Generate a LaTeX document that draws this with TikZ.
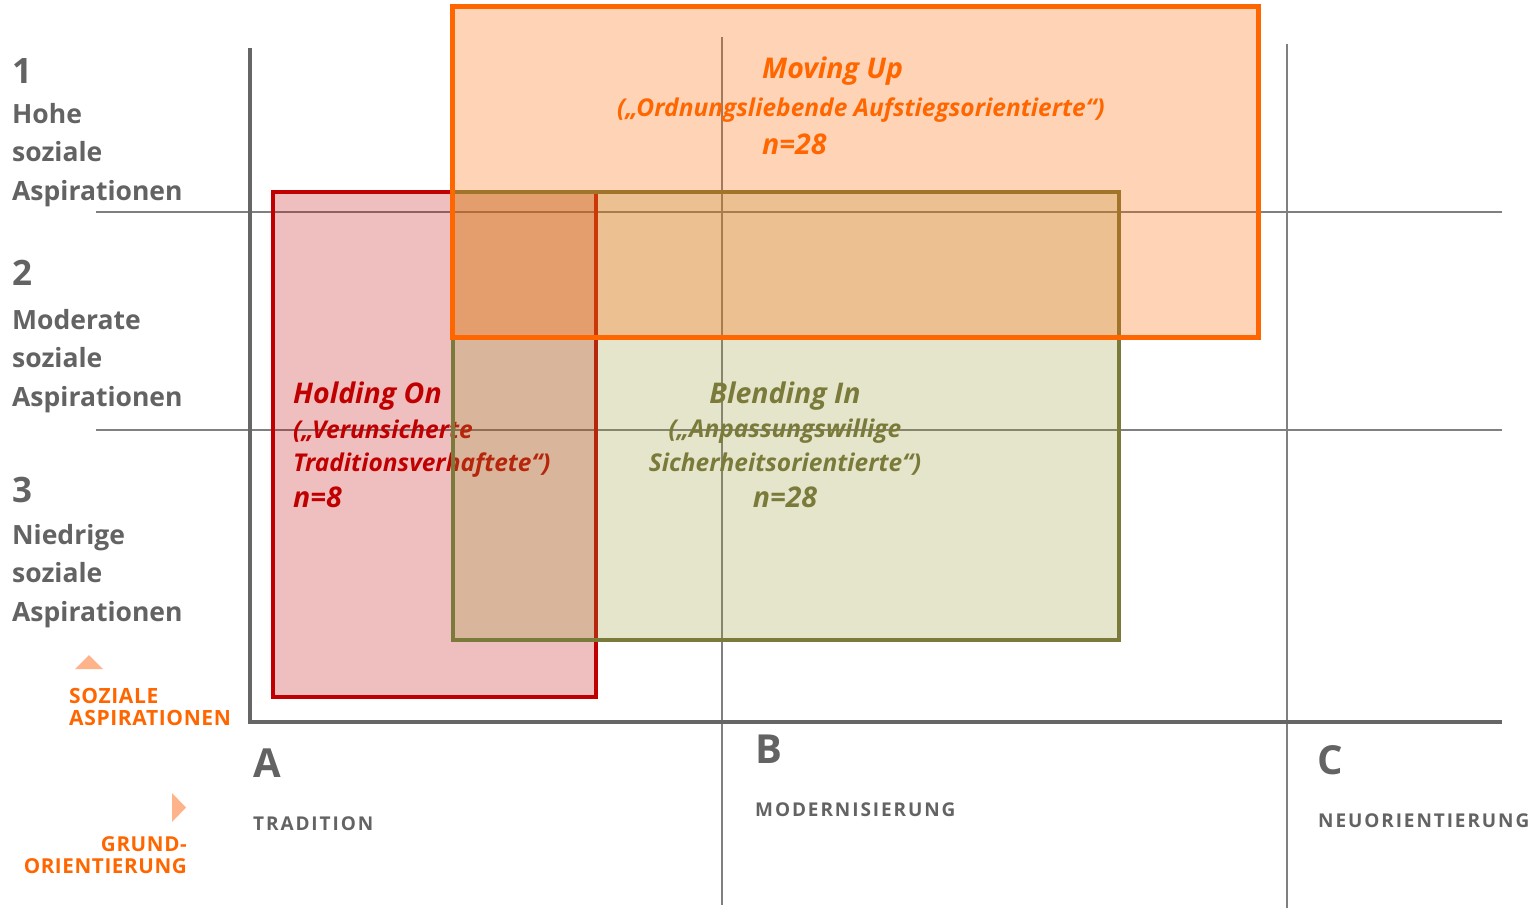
\documentclass[tikz,border=0pt]{standalone}
\usepackage{fontspec}
\setmainfont{Open Sans}
\newfontfamily\spacedA[LetterSpace=10]{Open Sans}
\newfontfamily\spacedB[LetterSpace=3]{Open Sans}
\definecolor{axisgray}{HTML}{666666}
\definecolor{gridgray}{HTML}{808080}
\definecolor{txtgray}{HTML}{636363}
\definecolor{redc}{HTML}{C00000}
\definecolor{olivec}{HTML}{7A7A3A}
\definecolor{olivefill}{HTML}{999933}
\definecolor{orangec}{HTML}{FF6600}
\definecolor{trifill}{HTML}{FFB38A}
\tikzset{
  axisline/.style={draw=axisgray, line width=4pt},
  gridline/.style={draw=gridgray, line width=1.5pt},
  redbox/.style={draw=redc, line width=4pt, fill=redc, fill opacity=0.25},
  greenbox/.style={draw=olivec, line width=4pt, fill=olivefill, fill opacity=0.25},
  orangebox/.style={draw=orangec, line width=5pt, fill=orangec, fill opacity=0.29},
  lvl/.style={inner sep=0pt, anchor=base west, text=txtgray, font=\bfseries\fontsize{35}{35}\selectfont},
  lvltext/.style={inner sep=0pt, anchor=base west, text=txtgray, align=left, font=\bfseries\fontsize{26.5}{38.5}\selectfont},
  col/.style={inner sep=0pt, anchor=base west, text=txtgray, font=\bfseries\fontsize{40}{40}\selectfont},
  coltext/.style={inner sep=0pt, anchor=base west, text=txtgray, font=\spacedA\bfseries\fontsize{19}{19}\selectfont},
  axlabel/.style={inner sep=0pt, text=orangec, font=\spacedB\bfseries\fontsize{21}{22}\selectfont},
  grptitle/.style={inner sep=0pt, font=\bfseries\itshape\fontsize{28.5}{28.5}\selectfont},
  grpsub/.style={inner sep=0pt, font=\bfseries\itshape\fontsize{24.5}{24.5}\selectfont},
}
\begin{document}
\begin{tikzpicture}[x=1pt,y=-1pt]
\useasboundingbox (0,0) rectangle (1537,908);
% grid
\draw[gridline] (96,212) -- (1502,212);
\draw[gridline] (96,430) -- (1502,430);
\draw[gridline] (722,37) -- (722,905);
\draw[gridline] (1287,44) -- (1287,908);
\draw[axisline] (250,48) -- (250,722) -- (1502,722);
% left labels
\node[lvl] (n1) at (12,83) {1};
\node[lvltext] (t1) at (12,200) {Hohe\\soziale\\Aspirationen};
\node[lvl] (n2) at (12,285) {2};
\node[lvltext] (t2) at (12,406) {Moderate\\soziale\\Aspirationen};
\node[lvl] (n3) at (12,502) {3};
\node[lvltext] (t3) at (12,621) {Niedrige\\soziale\\Aspirationen};
% axis labels
\fill[trifill] (75,669) -- (89,655) -- (103,669) -- cycle;
\node[axlabel, anchor=base west, align=left] (soz) at (69,725) {SOZIALE\\ASPIRATIONEN};
\fill[trifill] (172,793) -- (186,807.5) -- (172,822) -- cycle;
\node[axlabel, anchor=base east, align=right, font=\spacedB\bfseries\fontsize{20.6}{22}\selectfont] (grund) at (187,873) {GRUND-\\ORIENTIERUNG};
% columns
\node[col] (ca) at (253,777) {A};
\node[coltext] (cta) at (253,830) {TRADITION};
\node[col] (cb) at (755,763) {B};
\node[coltext] (ctb) at (755,816) {MODERNISIERUNG};
\node[col] (cc) at (1317,774) {C};
\node[coltext] (ctc) at (1318,827) {NEUORIENTIERUNG};
% red group
\draw[redbox] (273,192) rectangle (596,697);
\node[grptitle, text=redc, anchor=base west] (rt) at (293,403) {Holding On};
\node[grpsub, text=redc, anchor=base west] (rs1) at (293,438) {(„Verunsicherte};
\node[grpsub, text=redc, anchor=base west] (rs2) at (293,471) {Traditionsverhaftete“)};
\node[grptitle, text=redc, anchor=base west] (rn) at (293,507) {n=8};
% green group
\draw[greenbox] (453,192) rectangle (1119,640);
\node[grptitle, text=olivec, anchor=base] (gt) at (785,403) {Blending In};
\node[grpsub, text=olivec, anchor=base] (gs1) at (785,437) {(„Anpassungswillige};
\node[grpsub, text=olivec, anchor=base] (gs2) at (785,471) {Sicherheitsorientierte“)};
\node[grptitle, text=olivec, anchor=base] (gn) at (785,507) {n=28};
% orange group
\draw[orangebox] (452,6) rectangle (1258,337);
\node[grptitle, text=orangec, anchor=base west] (ot) at (762,78) {Moving Up};
\node[grpsub, text=orangec, anchor=base west] (os) at (617,116) {(„Ordnungsliebende Aufstiegsorientierte“)};
\node[grptitle, text=orangec, anchor=base west] (on) at (762,154) {n=28};
\end{tikzpicture}
\end{document}
